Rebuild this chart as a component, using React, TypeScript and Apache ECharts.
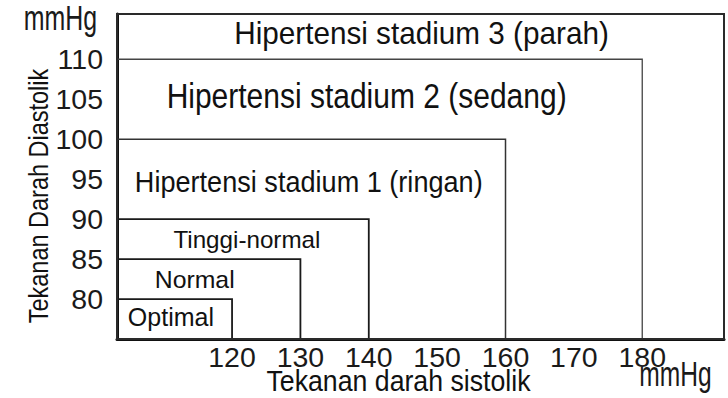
import React, { useEffect, useRef } from "react";
import * as echarts from "echarts";

// ---- data ----
const categories = [
  "Optimal",
  "Normal",
  "Tinggi-normal",
  "Hipertensi stadium 1 (ringan)",
  "Hipertensi stadium 2 (sedang)",
  "Hipertensi stadium 3 (parah)",
];
// upper bounds of each class (null = open-ended, runs to the axis edge)
const systolicUpper: (number | null)[] = [120, 130, 140, 160, 180, null];
const diastolicUpper: (number | null)[] = [80, 85, 90, 100, 110, null];
const xTickValues = [120, 130, 140, 150, 160, 170, 180];
const yTickValues = [80, 85, 90, 95, 100, 105, 110];
const unitLabel = "mmHg";
const xTitle = "Tekanan darah sistolik";
const yTitle = "Tekanan Darah Diastolik";

// ---- axis ranges ----
const X_MIN = 103.17;
const X_MAX = 191.96;
const Y_MIN = 75;
const Y_MAX = 115.66;

// ---- styles (per category) ----
const labelFontSize = [25, 24.8, 24.2, 27.1, 30, 29.7];
const labelScaleY = [1.0, 1.0, 1.02, 1.12, 1.15, 1.06];
const labelDx = [-3.6, -14, 4, -2.5, -13, 1];
const labelDy = [-2, 0, 0, 2, -3, -4];
const boxStroke = ["#1a1a1a", "#1a1a1a", "#1a1a1a", "#333", "#444", "#2a2a2a"];
const boxWidth = [1.8, 1.8, 1.8, 1.5, 1.3, 2];

const SANS = "'Liberation Sans', Arial, Helvetica, sans-serif";

export default function App() {
  const ref = useRef<HTMLDivElement>(null);

  useEffect(() => {
    if (!ref.current) return;
    const chart = echarts.init(ref.current, undefined, { renderer: "svg" });

    const seriesData = categories.map((name, i) => ({
      name,
      value: [systolicUpper[i] ?? X_MAX, diastolicUpper[i] ?? Y_MAX, i],
    }));

    const tickLabel = {
      fontFamily: SANS,
      fontSize: 28.5,
      color: "#1a1a1a",
    };

    const option: any = {
      animation: false,
      backgroundColor: "#ffffff",
      grid: { left: 117, right: 4, top: 14, bottom: 59, containLabel: false },
      xAxis: {
        type: "value",
        min: X_MIN,
        max: X_MAX,
        splitLine: { show: false },
        axisTick: { show: false },
        axisLine: { show: true, onZero: false, lineStyle: { color: "#111", width: 3 } },
        axisLabel: { ...tickLabel, customValues: xTickValues, margin: 3 },
      },
      yAxis: {
        type: "value",
        min: Y_MIN,
        max: Y_MAX,
        splitLine: { show: false },
        axisTick: { show: false },
        axisLine: { show: true, onZero: false, lineStyle: { color: "#111", width: 3 } },
        axisLabel: { ...tickLabel, customValues: yTickValues, margin: 14 },
      },
      series: [
        {
          type: "custom",
          coordinateSystem: "cartesian2d",
          silent: true,
          clip: false,
          data: seriesData,
          renderItem: (params: any, api: any) => {
            const i = api.value(2);
            const cs = params.coordSys;
            const left = cs.x;
            const bottom = cs.y + cs.height;
            const p = api.coord([api.value(0), api.value(1)]);
            const prevDia = i > 0 ? diastolicUpper[i - 1] : null;
            const prevTop = prevDia == null ? bottom : api.coord([X_MIN, prevDia])[1];
            const cx = (left + p[0]) / 2 + labelDx[i];
            const cy = (p[1] + prevTop) / 2 + labelDy[i];
            return {
              type: "group",
              children: [
                {
                  type: "rect",
                  shape: { x: left, y: p[1], width: p[0] - left, height: bottom - p[1] },
                  style: { fill: "none", stroke: boxStroke[i], lineWidth: boxWidth[i] },
                },
                {
                  type: "text",
                  x: cx,
                  y: cy,
                  scaleY: labelScaleY[i],
                  style: {
                    text: categories[i],
                    fontFamily: SANS,
                    fontSize: labelFontSize[i],
                    fill: "#111",
                    align: "center",
                    verticalAlign: "middle",
                  },
                },
              ],
            };
          },
        },
      ],
      graphic: [
        {
          type: "text",
          x: 60.5,
          y: 18,
          scaleX: 0.83,
          scaleY: 1.15,
          style: {
            text: unitLabel,
            fontFamily: SANS,
            fontSize: 30,
            fill: "#1a1a1a",
            align: "center",
            verticalAlign: "middle",
          },
        },
        {
          type: "text",
          x: 675.5,
          y: 373,
          scaleX: 0.82,
          scaleY: 1.18,
          style: {
            text: unitLabel,
            fontFamily: SANS,
            fontSize: 30,
            fill: "#1a1a1a",
            align: "center",
            verticalAlign: "middle",
          },
        },
        {
          type: "text",
          x: 398.5,
          y: 381,
          scaleY: 1.1,
          style: {
            text: xTitle,
            fontFamily: SANS,
            fontSize: 26.7,
            fill: "#111",
            align: "center",
            verticalAlign: "middle",
          },
        },
        {
          type: "text",
          x: 38,
          y: 196,
          rotation: Math.PI / 2,
          scaleY: 1.14,
          style: {
            text: yTitle,
            fontFamily: SANS,
            fontSize: 23.5,
            fill: "#111",
            align: "center",
            verticalAlign: "middle",
          },
        },
      ],
    };

    chart.setOption(option);
    return () => chart.dispose();
  }, []);

  return <div ref={ref} style={{ width: 728, height: 398, position: "absolute", left: 0, top: 0 }} />;
}
